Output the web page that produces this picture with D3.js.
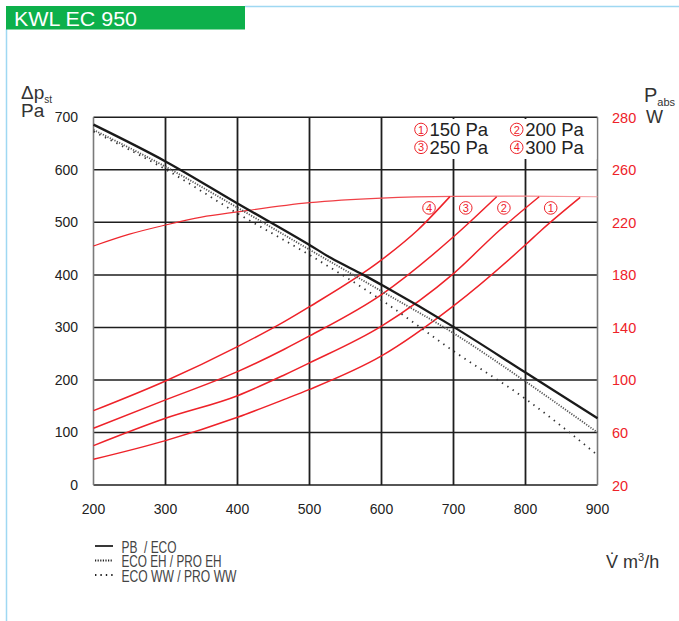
<!doctype html>
<html>
<head>
<meta charset="utf-8">
<style>
    body { margin: 0; background: #fff; }
    text { font-family: "Liberation Sans", Arial, sans-serif; }
</style>
</head>
<body>

<div class="start"></div>

<script src="https://d3js.org/d3.v7.min.js"></script>
<script>

    // axis ticks
    let flowTicks = [200, 300, 400, 500, 600, 700, 800, 900];
    let paTicks = [0, 100, 200, 300, 400, 500, 600, 700];
    let wTicks = [20, 60, 100, 140, 180, 220, 260, 280];

    // pressure curves (Pa)
    let pbFlow = [200, 300, 400, 500, 530, 575, 600, 700, 800, 900];
    let pbPa = [686, 616, 536, 457, 432, 400, 381, 301, 214, 127];
    let ehFlow = [200, 300, 400, 500, 600, 700, 800, 900];
    let ehPa = [676, 606, 528, 448, 369, 289, 197, 100];
    let wwFlow = [200, 300, 400, 500, 600, 700, 800, 900];
    let wwPa = [673, 601, 517, 438, 352, 255, 164, 57];

    // power curves (W)
    let maxFlow = [200, 250, 300, 350, 400, 500, 600, 700, 800, 900];
    let maxW = [202, 211, 218, 224, 228, 235, 238.5, 239.8, 240, 239.5];
    let p150Flow = [200, 300, 400, 465, 500, 600, 700, 800, 822, 876];
    let p150W = [39.6, 53.8, 71.6, 85.2, 92.8, 118.3, 156.4, 202.9, 214, 239];
    let p200Flow = [200, 300, 400, 465, 500, 600, 700, 764, 819];
    let p200W = [50, 70.8, 88, 103.8, 113, 141, 181, 214, 239.5];
    let p250Flow = [200, 300, 400, 465, 500, 600, 700, 760];
    let p250W = [63.2, 84.8, 106.3, 123.4, 133.5, 165, 209, 239.5];
    let p300Flow = [200, 300, 400, 465, 500, 600, 650, 695];
    let p300W = [76.6, 99.2, 125.4, 144.4, 155.8, 191.4, 214, 239.6];

    // curve labels and legend
    let curveNames = ['1', '2', '3', '4'];
    let curveValues = ['150 Pa', '200 Pa', '250 Pa', '300 Pa'];
    let labelFlow = [835, 770, 717, 666];
    let labelW = [231, 231, 231, 231];
    let legendNames = ['PB  / ECO', 'ECO EH / PRO EH', 'ECO WW / PRO WW'];

    let width = 679, height = 621;
    let red = '#ee2229';

    let svg = d3.select('.start').append('svg')
        .attr('width', width)
        .attr('height', height);

    let x = d3.scaleLinear().domain([200, 900]).range([93.5, 597.5]);
    let y = d3.scaleLinear().domain([0, 700]).range([485, 117.3]);
    // right axis is not linear: each tick sits on a left grid line
    let yW = d3.scaleLinear().domain(wTicks).range(paTicks.map(y));

    // header
    svg.append('line').attr('x1', 245).attr('x2', width).attr('y1', 6.5).attr('y2', 6.5)
        .attr('stroke', '#9fd8f2').attr('stroke-width', 1.5);
    svg.append('line').attr('x1', 6.5).attr('x2', 6.5).attr('y1', 29).attr('y2', height)
        .attr('stroke', '#9fd8f2').attr('stroke-width', 1.5);
    svg.append('rect').attr('x', 6).attr('y', 6).attr('width', 239).attr('height', 23.5)
        .attr('fill', '#0db04b');
    svg.append('text').attr('x', 14).attr('y', 25.5)
        .attr('fill', '#fff').attr('font-size', 20)
        .attr('textLength', 123).attr('lengthAdjust', 'spacingAndGlyphs')
        .text('KWL EC 950');

    // grid
    let grid = svg.append('g').attr('class', 'grid');
    grid.selectAll('line.v')
        .data(flowTicks.slice(1, -1))
        .join('line').attr('class', 'v')
        .attr('x1', d => x(d)).attr('x2', d => x(d))
        .attr('y1', y(700)).attr('y2', y(0))
        .attr('stroke', '#1e1e1e').attr('stroke-width', 1.8);
    grid.selectAll('line.h')
        .data(paTicks)
        .join('line').attr('class', 'h')
        .attr('x1', x(200)).attr('x2', x(900))
        .attr('y1', d => y(d)).attr('y2', d => y(d))
        .attr('stroke', '#1e1e1e').attr('stroke-width', 1.5);
    grid.selectAll('line.b')
        .data([200, 900])
        .join('line').attr('class', 'b')
        .attr('x1', d => x(d)).attr('x2', d => x(d))
        .attr('y1', y(700)).attr('y2', y(0))
        .attr('stroke', '#7a7a7a').attr('stroke-width', 1.6);

    // tick labels
    svg.append('g').selectAll('text')
        .data(paTicks)
        .join('text')
        .attr('x', 78).attr('y', d => y(d) + 5)
        .attr('text-anchor', 'end').attr('font-size', 14).attr('fill', '#222')
        .text(d => d);
    svg.append('g').selectAll('text')
        .data(wTicks)
        .join('text')
        .attr('x', 612).attr('y', d => yW(d) + 5.5)
        .attr('font-size', 14.5).attr('fill', red)
        .text(d => d);
    svg.append('g').selectAll('text')
        .data(flowTicks)
        .join('text')
        .attr('x', d => x(d)).attr('y', 514)
        .attr('text-anchor', 'middle').attr('font-size', 14).attr('fill', '#222')
        .text(d => d);

    // axis titles
    let lt = svg.append('text').attr('x', 21).attr('y', 99).attr('fill', '#333').attr('font-size', 19);
    lt.append('tspan').text('\u0394p');
    lt.append('tspan').attr('font-size', 10).attr('dy', 4).text('st');
    svg.append('text').attr('x', 21).attr('y', 117).attr('fill', '#333').attr('font-size', 19).text('Pa');

    let rt = svg.append('text').attr('x', 644).attr('y', 102).attr('fill', '#333').attr('font-size', 20);
    rt.append('tspan').text('P');
    rt.append('tspan').attr('font-size', 11).attr('dy', 4).text('abs');
    svg.append('text').attr('x', 646).attr('y', 123).attr('fill', '#333').attr('font-size', 18).text('W');

    let xt = svg.append('text').attr('x', 606).attr('y', 568).attr('fill', '#333').attr('font-size', 18);
    xt.append('tspan').text('V\u0307 m');
    xt.append('tspan').attr('font-size', 11).attr('dy', -7).text('3');
    xt.append('tspan').attr('dy', 7).text('/h');

    // power curves
    let wLine = d3.line()
        .x(d => x(d[0])).y(d => yW(d[1]))
        .curve(d3.curveMonotoneX);

    let defs = svg.append('defs');
    let grad = defs.append('linearGradient').attr('id', 'fade')
        .attr('gradientUnits', 'userSpaceOnUse')
        .attr('x1', x(200)).attr('x2', x(900)).attr('y1', 0).attr('y2', 0);
    grad.append('stop').attr('offset', '0%').attr('stop-color', red);
    grad.append('stop').attr('offset', '60%').attr('stop-color', '#f0464c');
    grad.append('stop').attr('offset', '100%').attr('stop-color', '#f7a3a7');

    svg.append('path')
        .datum(d3.zip(maxFlow, maxW))
        .attr('d', wLine)
        .attr('fill', 'none').attr('stroke', 'url(#fade)').attr('stroke-width', 1.2);

    let powerSets = [
        d3.zip(p150Flow, p150W),
        d3.zip(p200Flow, p200W),
        d3.zip(p250Flow, p250W),
        d3.zip(p300Flow, p300W)
    ];
    svg.append('g').selectAll('path')
        .data(powerSets)
        .join('path')
        .attr('d', wLine)
        .attr('fill', 'none').attr('stroke', red).attr('stroke-width', 1.5);

    // pressure curves
    let paLine = d3.line()
        .x(d => x(d[0])).y(d => y(d[1]))
        .curve(d3.curveMonotoneX);

    svg.append('path').datum(d3.zip(wwFlow, wwPa)).attr('d', paLine)
        .attr('fill', 'none').attr('stroke', '#333').attr('stroke-width', 1.8)
        .attr('stroke-dasharray', '1.4,5');
    svg.append('path').datum(d3.zip(ehFlow, ehPa)).attr('d', paLine)
        .attr('fill', 'none').attr('stroke', '#555').attr('stroke-width', 1.8)
        .attr('stroke-dasharray', '1.2,1.4');
    svg.append('path').datum(d3.zip(pbFlow, pbPa)).attr('d', paLine)
        .attr('fill', 'none').attr('stroke', '#1a1a1a').attr('stroke-width', 2.3);

    // circled numbers
    function circled(g, cx, cy, name) {
        g.append('circle').attr('cx', cx).attr('cy', cy).attr('r', 6.3)
            .attr('fill', '#fff').attr('stroke', red).attr('stroke-width', 1);
        g.append('text').attr('x', cx).attr('y', cy + 4)
            .attr('text-anchor', 'middle').attr('font-size', 11).attr('fill', red)
            .text(name);
    }

    let labels = svg.append('g');
    curveNames.forEach((n, i) => circled(labels, x(labelFlow[i]), yW(labelW[i]), n));

    // legend top right (covers the grid)
    let legend = svg.append('g');
    legend.append('rect').attr('x', 410).attr('y', 119).attr('width', 186.5).attr('height', 40)
        .attr('fill', '#fff');
    curveNames.forEach((n, i) => {
        let lx = i % 2 === 0 ? 421 : 516.7;
        let ly = i < 2 ? 129.5 : 147.3;
        circled(legend, lx, ly, n);
        legend.append('text').attr('x', lx + 8.5).attr('y', ly + 6.3)
            .attr('font-size', 18.5).attr('fill', '#222')
            .text(curveValues[i]);
    });

    // legend bottom
    let styles = [null, '1.2,1.4', '1.4,4'];
    let bottom = svg.append('g');
    legendNames.forEach((n, i) => {
        let ly = 546 + i * 14.5;
        let l = bottom.append('line')
            .attr('x1', 95).attr('x2', 113).attr('y1', ly).attr('y2', ly)
            .attr('stroke', '#222').attr('stroke-width', 1.8);
        if (styles[i]) l.attr('stroke-dasharray', styles[i]);
        bottom.append('text').attr('x', 121.5).attr('y', ly + 6.5)
            .attr('font-size', 16.5).attr('fill', '#444')
            .attr('textLength', [55, 100, 115][i]).attr('lengthAdjust', 'spacingAndGlyphs')
            .style('white-space', 'pre')
            .text(n);
    });

</script>
</body>
</html>
